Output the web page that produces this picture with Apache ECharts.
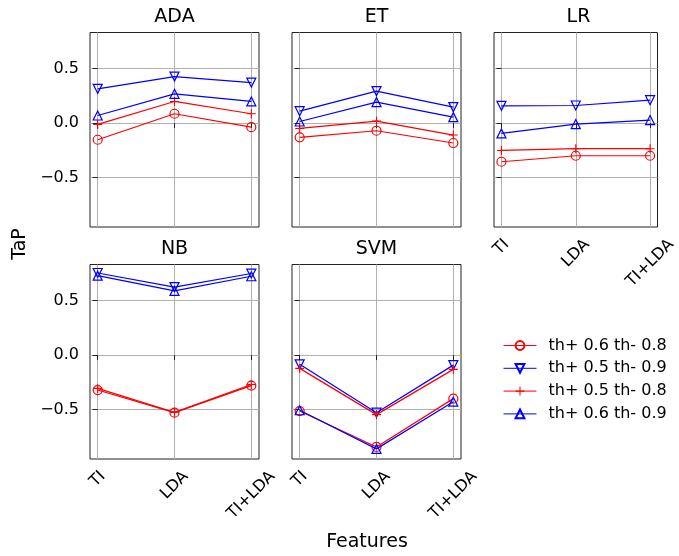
<!DOCTYPE html>
<html><head><meta charset="utf-8">
<script src="https://cdn.jsdelivr.net/npm/echarts@6/dist/echarts.min.js"></script>
<style>html,body{margin:0;padding:0;background:#fff}#c{width:679px;height:556px}</style>
</head><body><div id="c"></div>
<script>
// ---------------- DATA ----------------
const categories = ['TI', 'LDA', 'TI+LDA'];
const classifiers = ['ADA', 'ET', 'LR', 'NB', 'SVM'];
const seriesNames = ['th+ 0.6 th- 0.8', 'th+ 0.5 th- 0.9', 'th+ 0.5 th- 0.8', 'th+ 0.6 th- 0.9'];
const yTicks = [-0.5, 0, 0.5];
const xTicks = [0, 1, 2];

// values per classifier, ordered as categories
const ADA_p6_n8 = [-0.153, 0.086, -0.037];
const ADA_p5_n9 = [0.315, 0.428, 0.373];
const ADA_p5_n8 = [-0.012, 0.199, 0.086];
const ADA_p6_n9 = [0.070, 0.269, 0.199];

const ET_p6_n8 = [-0.131, -0.070, -0.183];
const ET_p5_n9 = [0.110, 0.294, 0.147];
const ET_p5_n8 = [-0.049, 0.018, -0.110];
const ET_p6_n9 = [0.015, 0.193, 0.055];

const LR_p6_n8 = [-0.355, -0.300, -0.300];
const LR_p5_n9 = [0.159, 0.162, 0.211];
const LR_p5_n8 = [-0.251, -0.235, -0.235];
const LR_p6_n9 = [-0.095, -0.009, 0.028];

const NB_p6_n8 = [-0.321, -0.529, -0.280];
const NB_p5_n9 = [0.755, 0.625, 0.750];
const NB_p5_n8 = [-0.306, -0.526, -0.270];
const NB_p6_n9 = [0.730, 0.590, 0.725];

const SVM_p6_n8 = [-0.514, -0.844, -0.400];
const SVM_p5_n9 = [-0.085, -0.529, -0.092];
const SVM_p5_n8 = [-0.122, -0.547, -0.131];
const SVM_p6_n9 = [-0.507, -0.862, -0.428];

const valueTable = [
  [ADA_p6_n8, ADA_p5_n9, ADA_p5_n8, ADA_p6_n9],
  [ET_p6_n8, ET_p5_n9, ET_p5_n8, ET_p6_n9],
  [LR_p6_n8, LR_p5_n9, LR_p5_n8, LR_p6_n9],
  [NB_p6_n8, NB_p5_n9, NB_p5_n8, NB_p6_n9],
  [SVM_p6_n8, SVM_p5_n9, SVM_p5_n8, SVM_p6_n9]
];

// ---------------- LAYOUT / STYLE ----------------
const FONT = 'DejaVu Sans';
const TICK_FS = 16;
const TITLE_FS = 19;
const layout = [
  {left: 90, top: 32.5, width: 169, height: 194.5},
  {left: 292, top: 32.5, width: 169, height: 194.5},
  {left: 494, top: 32.5, width: 169, height: 194.5},
  {left: 90, top: 264.5, width: 169, height: 194.5},
  {left: 292, top: 264.5, width: 169, height: 194.5}
];
const showYLabels = [true, false, false, true, false];
const showXLabels = [false, false, true, true, true];

const PLUS = 'path://M0,4.4H10V5.6H0Z M4.4,0H5.6V10H4.4Z';
const seriesStyles = [
  {color: '#ff0000', symbol: 'circle', rotate: 0, hollow: true},
  {color: '#0000ff', symbol: 'triangle', rotate: 180, hollow: true},
  {color: '#ff0000', symbol: PLUS, rotate: 0, hollow: false},
  {color: '#0000ff', symbol: 'triangle', rotate: 0, hollow: true}
];

// rotated tick labels: emulate matplotlib centered rotated labels
const ctx = document.createElement('canvas').getContext('2d');
ctx.font = TICK_FS + 'px "' + FONT + '"';
const rich = {};
categories.forEach((c, i) => {
  const L = ctx.measureText(c).width;
  rich['c' + i] = {padding: [L * 0.5, L * 0.5, 0, 0], fontSize: TICK_FS, fontFamily: FONT, color: '#000'};
});

const fmtY = v => {
  const s = (Math.abs(v) < 1e-9 ? 0 : v).toFixed(1);
  return s.replace('-', '\u2212');
};

const grids = layout.map(g => ({
  left: g.left, top: g.top, width: g.width, height: g.height,
  show: true, borderColor: '#222', borderWidth: 1, backgroundColor: 'transparent',
  containLabel: false
}));

const xAxes = layout.map((g, i) => ({
  gridIndex: i, type: 'value', min: -0.1, max: 2.1,
  axisLine: {show: false},
  axisTick: {show: true, customValues: xTicks, length: 5, lineStyle: {color: '#222', width: 1}},
  axisLabel: {
    show: showXLabels[i], customValues: xTicks, rotate: 45, align: 'center', verticalAlign: 'middle',
    margin: 15, fontSize: TICK_FS, fontFamily: FONT, color: '#000',
    formatter: v => { const k = Math.round(v); return '{c' + k + '|' + categories[k] + '}'; },
    rich: rich
  },
  splitLine: {show: true, lineStyle: {color: '#b0b0b0', width: 1}}
}));

const yAxes = layout.map((g, i) => ({
  gridIndex: i, type: 'value', min: -0.955, max: 0.833,
  axisLine: {show: false},
  axisTick: {show: true, customValues: yTicks, length: 5, lineStyle: {color: '#222', width: 1}},
  axisLabel: {show: showYLabels[i], customValues: yTicks, margin: 11, fontSize: TICK_FS, fontFamily: FONT, color: '#000', formatter: fmtY},
  splitLine: {show: true, lineStyle: {color: '#b0b0b0', width: 1}}
}));

const series = [];
valueTable.forEach((group, i) => {
  group.forEach((vals, s) => {
    const st = seriesStyles[s];
    series.push({
      type: 'line', name: seriesNames[s], xAxisIndex: i, yAxisIndex: i,
      data: vals.map((v, j) => [xTicks[j], v]),
      symbol: st.symbol, symbolSize: 9, symbolRotate: st.rotate, showAllSymbol: true,
      clip: false, z: 2 + s,
      lineStyle: {color: st.color, width: 1.2},
      itemStyle: st.hollow
        ? {color: 'rgba(255,255,255,0)', borderColor: st.color, borderWidth: 1.2}
        : {color: st.color, borderWidth: 0},
      emphasis: {disabled: true}
    });
  });
});

const graphic = classifiers.map((c, i) => ({
  type: 'text', x: layout[i].left + layout[i].width / 2, y: layout[i].top - 15.5,
  style: {text: c, fontSize: TITLE_FS, fontFamily: FONT, fill: '#000', align: 'center', verticalAlign: 'middle'}
}));
graphic.push({type: 'text', x: 20, y: 244, rotation: Math.PI / 2,
  style: {text: 'TaP', fontSize: TITLE_FS, fontFamily: FONT, fill: '#000', align: 'center', verticalAlign: 'middle'}});
graphic.push({type: 'text', x: 367, y: 542,
  style: {text: 'Features', fontSize: TITLE_FS, fontFamily: FONT, fill: '#000', align: 'center', verticalAlign: 'middle'}});

const chart = echarts.init(document.getElementById('c'), null, {renderer: 'canvas'});
chart.setOption({
  animation: false,
  backgroundColor: '#fff',
  grid: grids,
  xAxis: xAxes,
  yAxis: yAxes,
  series: series,
  graphic: graphic,
  legend: {
    orient: 'vertical', left: 498, top: 332.5, itemWidth: 33, itemHeight: 11, itemGap: 6.8,
    data: seriesNames, selectedMode: false,
    lineStyle: {width: 1},
    textStyle: {fontFamily: FONT, fontSize: TICK_FS, color: '#000', padding: [0, 0, 0, 7]}
  }
});
</script>
</body></html>
